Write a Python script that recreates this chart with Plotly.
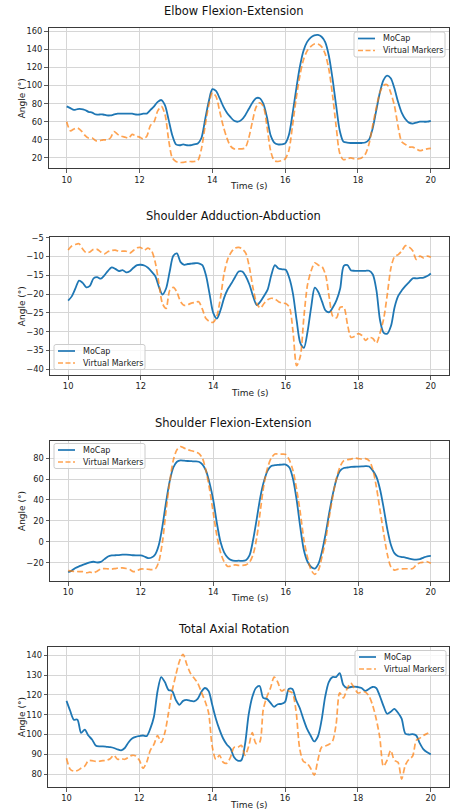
import numpy as np
import plotly.graph_objects as go
from plotly.subplots import make_subplots

# ---------------- data ----------------
time_s = [round(10 + 0.1 * i, 1) for i in range(101)]

elbow_mocap = [77, 75, 73, 74, 74, 73, 71, 70, 68, 68,
               68, 67, 67, 68, 69, 69, 69, 69, 69, 68,
               68, 69, 69, 73, 77, 82, 84, 78, 62, 45,
               35, 34, 35, 34, 34, 35, 36, 42, 62, 82,
               96, 94, 86, 77, 70, 65, 61, 60, 62, 67,
               74, 81, 86, 86, 80, 65, 45, 37, 35, 35,
               36, 45, 68, 95, 120, 138, 148, 153, 155.5, 156,
               154, 148, 133, 108, 78, 50, 38, 37, 36.5, 36.5,
               36.5, 36.5, 37, 40, 52, 72, 92, 106, 111, 108,
               97, 82, 70, 63, 59, 58, 59, 60, 60, 60, 61]
elbow_virtual = [60, 50, 52, 53, 50, 45, 42, 42, 39, 39,
                 40, 40, 42, 49, 46, 44, 43, 42, 46, 44,
                 43, 41, 44, 56, 60, 72, 77, 68, 40, 20,
                 16, 15, 15, 16, 16, 16, 17, 30, 55, 78,
                 92, 88, 72, 55, 42, 33, 30, 30, 30, 31,
                 42, 60, 76, 81, 77, 55, 28, 17, 16, 17,
                 19, 28, 55, 85, 110, 128, 138, 143, 146, 146,
                 143, 135, 118, 90, 55, 25, 18, 19, 20, 19,
                 19, 20, 24, 35, 55, 75, 92, 100, 101, 92,
                 78, 55, 38, 35, 32, 32, 30, 28, 29, 30, 30.5]

abd_mocap = [-21.7, -20.6, -18.5, -16.4, -17.0, -18.2, -17.8, -15.8, -15.5, -15.9,
             -15.0, -13.8, -12.9, -13.3, -13.9, -13.6, -14.2, -13.9, -13.0, -12.3,
             -12.2, -12.4, -13.0, -14.0, -15.2, -18.0, -20.1, -18.5, -14.0, -9.8,
             -9.2, -11.5, -12.2, -12.0, -11.9, -11.8, -11.8, -12.3, -15.0, -20.0,
             -25.0, -26.5, -24.3, -21.0, -18.7, -17.2, -15.5, -14.0, -14.0, -15.3,
             -17.5, -20.6, -22.9, -22.0, -20.5, -18.8, -15.0, -12.3, -13.2, -13.4,
             -13.5, -15.8, -20.0, -27.0, -33.0, -34.3, -30.0, -23.5, -18.3, -19.5,
             -22.0, -24.4, -24.8, -23.5, -21.6, -18.5, -12.5, -12.3, -13.7, -13.8,
             -13.8, -13.8, -13.8, -13.8, -14.8, -19.0, -27.0, -30.3, -30.5, -28.5,
             -23.5, -20.5, -19.0, -17.8, -16.8, -15.8, -15.8, -15.7, -15.6, -15.2, -14.5]
abd_virtual = [-8.3, -7.2, -6.8, -6.6, -8.0, -9.0, -8.8, -8.1, -8.1, -8.8,
               -9.3, -8.7, -8.4, -8.3, -8.6, -8.6, -8.6, -9.1, -8.4, -7.7,
               -7.6, -8.3, -7.8, -8.5, -11.5, -17.0, -22.5, -23.8, -19.0, -18.2,
               -19.5, -22.0, -23.0, -22.8, -22.4, -22.2, -22.0, -24.0, -26.5, -27.3,
               -27.5, -25.8, -21.0, -14.5, -10.7, -8.8, -7.8, -7.6, -8.0, -9.2,
               -13.0, -18.5, -22.5, -23.7, -22.5, -21.5, -21.1, -21.3, -22.0, -22.4,
               -22.5, -23.5, -30.0, -39.0, -36.6, -26.0, -17.5, -13.8, -11.7, -12.3,
               -12.7, -15.0, -21.0, -26.0, -26.3, -23.5, -23.5, -28.0, -31.5, -31.2,
               -30.5, -31.0, -32.3, -31.5, -31.8, -33.0, -30.3, -26.5, -20.0, -13.0,
               -10.0, -9.5, -8.5, -7.1, -7.5, -8.5, -10.8, -9.9, -10.4, -9.9, -10.2]

flex_mocap = [-29.0, -27.5, -25.0, -23.5, -22.0, -20.8, -19.5, -19.0, -19.7, -19.2,
              -16.5, -14.0, -13.0, -12.8, -12.6, -12.3, -12.2, -12.4, -12.8, -12.9,
              -13.0, -14.0, -15.5, -15.0, -12.0, -3.0, 15.0, 38.0, 58.0, 71.0,
              76.5, 77.8, 77.5, 77.2, 77.0, 76.8, 76.5, 74.0, 68.0, 56.0,
              40.0, 18.0, 0.0, -10.0, -15.0, -17.5, -18.2, -18.0, -18.2, -17.5,
              -13.0, 2.0, 22.0, 43.0, 58.0, 68.0, 72.5, 73.2, 73.5, 73.8,
              73.8, 71.0, 60.0, 40.0, 14.0, -8.0, -19.0, -24.0, -25.5, -21.0,
              -9.0, 8.0, 28.0, 46.0, 60.0, 68.0, 70.5, 71.0, 71.5, 71.7,
              71.8, 72.0, 72.3, 72.0, 68.0, 62.0, 50.0, 32.0, 12.0, -3.0,
              -11.0, -13.8, -14.5, -15.0, -16.0, -16.8, -17.0, -16.5, -15.0, -13.8, -13.5]
flex_virtual = [-27.5, -28.0, -28.2, -28.5, -28.5, -29.5, -29.0, -29.5, -28.0, -26.0,
                -25.5, -25.8, -26.0, -25.5, -25.0, -24.8, -25.5, -26.5, -28.5, -27.5,
                -26.0, -26.0, -26.2, -26.5, -26.0, -19.0, 0.0, 30.0, 57.0, 78.0,
                88.0, 91.0, 89.5, 88.0, 87.0, 86.0, 84.5, 80.0, 68.0, 50.0,
                28.0, 6.0, -10.0, -19.0, -23.5, -23.0, -22.0, -22.5, -22.5, -22.0,
                -19.5, -12.0, 4.0, 30.0, 55.0, 71.0, 80.0, 83.8, 83.8, 83.8,
                83.5, 78.0, 68.0, 50.0, 28.0, 2.0, -15.0, -27.0, -31.0, -27.0,
                -14.0, 2.0, 24.0, 44.0, 61.0, 72.0, 77.5, 78.5, 79.0, 80.0,
                79.5, 79.0, 79.5, 77.5, 69.0, 52.0, 30.0, 8.0, -12.0, -24.0,
                -27.0, -26.0, -25.8, -25.7, -25.7, -25.5, -22.0, -20.0, -19.5, -19.0, -20.5]

axial_mocap = [117.0, 112.0, 107.5, 107.5, 100.8, 102.5, 99.5, 97.5, 94.5, 94.0,
               94.0, 93.8, 93.6, 93.2, 92.5, 92.0, 93.2, 96.0, 98.0, 98.8,
               99.2, 99.5, 99.2, 103.0, 109.0, 122.0, 129.0, 126.5, 122.5, 122.0,
               117.5, 115.0, 117.0, 117.5, 117.0, 116.8, 118.0, 121.5, 123.5, 122.0,
               115.0, 108.0, 102.5, 98.0, 95.0, 93.0, 88.5, 86.8, 87.0, 95.0,
               110.0, 119.0, 123.5, 124.5, 118.5, 118.0, 116.0, 114.0, 115.3, 115.5,
               116.5, 123.0, 123.0, 117.5, 113.5, 108.0, 103.0, 99.5, 96.5, 99.0,
               107.0, 119.0, 126.5, 129.0, 129.0, 131.0, 125.0, 123.5, 124.0, 124.2,
               124.0, 123.5, 122.0, 123.0, 124.0, 123.5, 119.5, 114.5, 110.5, 111.5,
               113.0, 111.0, 108.0, 100.5, 100.0, 100.2, 99.5, 95.5, 92.5, 91.0, 90.0]
axial_virtual = [88.0, 82.5, 81.5, 81.8, 83.0, 84.0, 86.8, 86.8, 86.4, 86.5,
                 86.8, 87.0, 87.8, 89.5, 87.5, 87.8, 87.5, 88.5, 89.5, 89.2,
                 87.0, 83.0, 86.0, 92.0, 95.0, 99.5, 96.0, 101.0, 111.0, 122.0,
                 130.0, 137.0, 140.5, 135.5, 131.0, 128.5, 126.0, 121.5, 117.0, 111.0,
                 94.0, 87.5, 89.5, 86.0, 85.5, 88.5, 93.5, 93.5, 94.5, 89.5,
                 94.0, 101.0, 95.5, 96.0, 112.5, 119.0, 123.5, 129.0, 126.4, 122.0,
                 122.8, 122.0, 121.0, 112.0, 93.0, 86.5, 85.5, 83.0, 79.5, 87.0,
                 93.5, 94.2, 95.0, 96.5, 105.0, 121.0, 118.5, 123.0, 126.0, 123.5,
                 121.0, 121.5, 121.5, 119.5, 115.0, 108.0, 98.5, 84.0, 87.0, 92.0,
                 87.0, 86.0, 77.5, 84.5, 87.5, 89.0, 97.0, 98.2, 99.5, 100.5, 101.5]

titles = ["Elbow Flexion-Extension", "Shoulder Adduction-Abduction",
          "Shoulder Flexion-Extension", "Total Axial Rotation"]
series_names = ["MoCap", "Virtual Markers"]
series = [(elbow_mocap, elbow_virtual), (abd_mocap, abd_virtual),
          (flex_mocap, flex_virtual), (axial_mocap, axial_virtual)]
y_ranges = [[8.5, 163.3], [-41.5, -4.9], [-37.4, 96.3], [73.5, 144.2]]
y_ticks = [list(range(20, 161, 20)), list(range(-40, -4, 5)),
           list(range(-20, 81, 20)), list(range(80, 141, 10))]
x_ticks = [10, 12, 14, 16, 18, 20]

# ---------------- layout (pixels) ----------------
W, H = 452, 812
# plot boxes: left, right, top, bottom
boxes = [(48.5, 449, 28.3, 168.3), (50, 449, 237.3, 375),
         (50, 449, 441, 581), (48.3, 449, 647, 787)]
title_y = [11, 216, 422.7, 629.3]
xlabel_y = [185.7, 392.7, 598, 805]
# legend boxes: left, top
legend_boxes = [(354, 32), (54, 344.5), (54, 443.5), (355, 650.5)]
LEG_W, LEG_H = 91, 25

BLUE = "#1f77b4"
ORANGE = "rgba(255,127,14,0.72)"
FONT = "DejaVu Sans"

def px(x):
    return x / W

def py(y):
    return 1 - y / H

fig = make_subplots(rows=4, cols=1)

for i, (mocap, virt) in enumerate(series):
    fig.add_trace(go.Scatter(x=time_s, y=mocap, mode="lines", name=series_names[0],
                             line=dict(color=BLUE, width=1.8, shape="spline", smoothing=0.8),
                             showlegend=False), row=i + 1, col=1)
    fig.add_trace(go.Scatter(x=time_s, y=virt, mode="lines", name=series_names[1],
                             line=dict(color=ORANGE, width=1.7, dash="6px,3px",
                                       shape="spline", smoothing=0.8),
                             showlegend=False), row=i + 1, col=1)

annotations = []
shapes = []
for i in range(4):
    l, r, t, b = boxes[i]
    xa = "xaxis" if i == 0 else f"xaxis{i+1}"
    ya = "yaxis" if i == 0 else f"yaxis{i+1}"
    axis_common = dict(showline=True, linecolor="#3a3a3a", linewidth=1, mirror=True,
                       showgrid=True, gridcolor="#d6d6d6", gridwidth=1,
                       ticks="outside", ticklen=3.5, tickwidth=0.8, tickcolor="#333",
                       tickfont=dict(family=FONT, size=8.3, color="#222"),
                       zeroline=False)
    fig.layout[xa].update(domain=[px(l), px(r)], range=[9.5, 20.5],
                          tickvals=x_ticks, **axis_common)
    fig.layout[ya].update(domain=[py(b), py(t)], range=y_ranges[i],
                          tickvals=y_ticks[i], **axis_common)
    cx = (l + r) / 2
    annotations.append(dict(text=titles[i], x=px(233), y=py(title_y[i]),
                            xref="paper", yref="paper", showarrow=False,
                            xanchor="center", yanchor="middle",
                            font=dict(family=FONT, size=11.5, color="#111")))
    annotations.append(dict(text="Time (s)", x=px(cx), y=py(xlabel_y[i]),
                            xref="paper", yref="paper", showarrow=False,
                            xanchor="center", yanchor="middle",
                            font=dict(family=FONT, size=9, color="#222")))
    annotations.append(dict(text="Angle (°)", x=px(22), y=py((t + b) / 2),
                            xref="paper", yref="paper", showarrow=False, textangle=-90,
                            xanchor="center", yanchor="middle",
                            font=dict(family=FONT, size=9, color="#222")))

    # legend (drawn as a matplotlib-style box)
    bl, bt = legend_boxes[i]
    br, bb = bl + LEG_W, bt + LEG_H
    rr = 2.0
    path = (f"M {px(bl + rr)},{py(bt)} L {px(br - rr)},{py(bt)} "
            f"Q {px(br)},{py(bt)} {px(br)},{py(bt + rr)} "
            f"L {px(br)},{py(bb - rr)} Q {px(br)},{py(bb)} {px(br - rr)},{py(bb)} "
            f"L {px(bl + rr)},{py(bb)} Q {px(bl)},{py(bb)} {px(bl)},{py(bb - rr)} "
            f"L {px(bl)},{py(bt + rr)} Q {px(bl)},{py(bt)} {px(bl + rr)},{py(bt)} Z")
    shapes.append(dict(type="path", path=path, xref="paper", yref="paper",
                       fillcolor="rgba(255,255,255,0.8)",
                       line=dict(color="#cccccc", width=1), layer="above"))
    for k, (name, col, dash) in enumerate([(series_names[0], BLUE, "solid"),
                                          (series_names[1], ORANGE, "5px,2.5px")]):
        ry = bt + 6.5 + 12 * k
        shapes.append(dict(type="line", xref="paper", yref="paper",
                           x0=px(bl + 4), x1=px(bl + 21), y0=py(ry), y1=py(ry),
                           line=dict(color=col, width=1.7, dash=dash), layer="above"))
        annotations.append(dict(text=name, x=px(bl + 26.5), y=py(ry),
                                xref="paper", yref="paper", showarrow=False,
                                xanchor="left", yanchor="middle",
                                font=dict(family=FONT, size=8, color="#222")))

fig.update_layout(width=W, height=H, margin=dict(l=0, r=0, t=0, b=0, autoexpand=False),
                  paper_bgcolor="white", plot_bgcolor="white",
                  annotations=annotations, shapes=shapes, showlegend=False,
                  hovermode=False, font=dict(family=FONT))

fig.write_html("out.html", config={"displayModeBar": False, "staticPlot": True},
               post_script="document.body.style.margin='0px';document.body.style.padding='0px';")
